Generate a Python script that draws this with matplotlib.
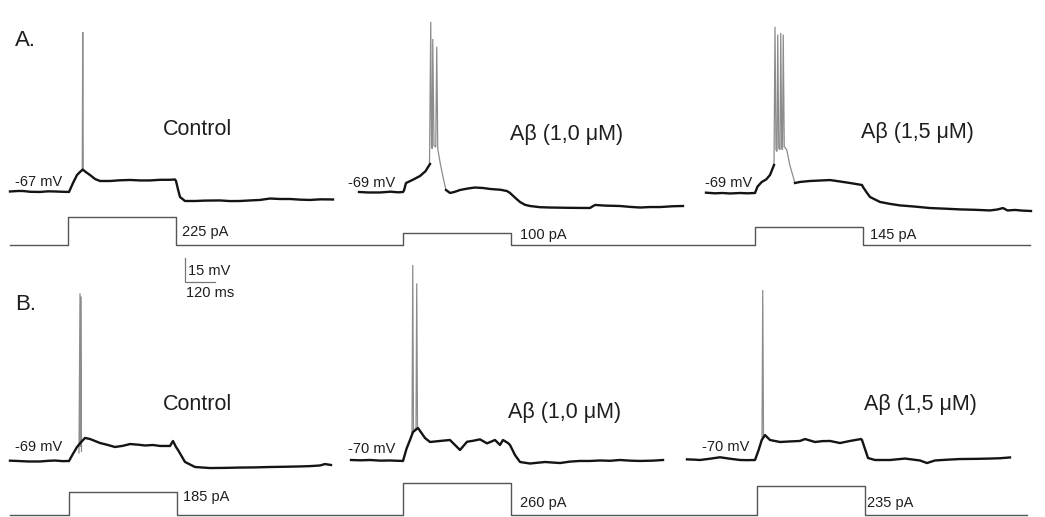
import numpy as np
import matplotlib

matplotlib.use("Agg")
import matplotlib.pyplot as plt

plt.rcParams["font.family"] = ["Liberation Sans", "DejaVu Sans"]

W, H = 1045, 517
PX_PER_MS = 0.25       # horizontal scale
PX_PER_MV = 1.6        # vertical scale (15 mV bar ~ 24 px)
PX_PER_PA = 0.125      # current step scale

TRACE = "#141414"
SPIKE = "#8c8c8c"
STIM = "#555555"
TEXT = "#1e1e1e"

# ---- voltage traces: time from step onset (ms), membrane potential (mV) ----
A1_T = [-232, -200, -180, -150, -112, -80, -52, -20, 4, 20, 36, 50, 59, 70, 88, 108, 128,
        168, 208, 248, 288, 328, 368, 408, 428, 432, 440, 448, 468, 508, 548, 608, 648,
        688, 728, 768, 808, 848, 888, 928, 968, 1010, 1060]
A1_V = [-67.3, -67.0, -67.0, -67.5, -67.6, -67.2, -67.3, -67.5, -67.6, -62.0, -57.0, -54.8,
        -53.6, -55.0, -57.0, -59.5, -60.75, -60.75, -60.3, -60.1, -60.4, -60.4, -60.0, -60.0,
        -59.8, -60.75, -66.0, -70.75, -73.25, -73.25, -73.0, -72.9, -73.3, -73.25, -72.9,
        -72.6, -71.7, -72.0, -72.0, -72.4, -72.6, -72.2, -72.3]
A1_SPK_T = [57, 59, 61]
A1_SPK_V = [-54.0, 32.4, -54.0]

A2_T = [-176, -140, -92, -50, -20, 0, 4, 12, 40, 68, 90, 108, np.nan,
        172, 188, 205, 228, 260, 288, 320, 348, 390, 416, 428, 448, 468, 488, 508, 548,
        588, 668, 748, 758, 768, 808, 868, 908, 948, 988, 1028, 1080, 1120]
A2_V = [-69.0, -69.3, -69.3, -68.8, -69.2, -69.0, -68.0, -63.4, -61.3, -59.0, -56.0, -51.5, np.nan,
        -67.75, -69.6, -69.0, -67.75, -66.8, -66.2, -66.5, -67.1, -67.6, -68.4, -69.6, -72.5,
        -75.25, -77.0, -77.75, -78.5, -78.7, -78.9, -79.0, -78.0, -77.1, -77.5, -77.75,
        -78.3, -78.7, -78.4, -78.4, -77.9, -77.75]
A2_SPK_T = [106, 111, 114, 117, 119, 124, 131, 135, 139, 150, 162, 172]
A2_SPK_V = [-51.5, 37.4, -40.0, -42.0, 26.6, -40.0, -41.0, 21.8, -42.0, -52.0, -61.0, -67.75]

A3_T = [-196, -160, -130, -100, -60, -30, 0, 10, 27, 45, 60, 76, np.nan,
        160, 180, 220, 260, 300, 340, 380, 428, 432, 446, 460, 500, 540, 580, 640, 700,
        760, 820, 880, 940, 970, 992, 1010, 1040, 1070, 1104]
A3_V = [-68.8, -69.2, -69.0, -69.3, -69.0, -69.2, -69.0, -65.0, -62.1, -60.5, -57.75, -51.5, np.nan,
        -62.75, -62.1, -61.5, -61.2, -60.9, -61.8, -62.75, -64.0, -65.25, -68.5, -71.5,
        -74.6, -75.8, -76.75, -77.5, -78.4, -78.8, -79.25, -79.5, -79.9, -79.3, -78.4,
        -79.9, -79.6, -80.0, -80.25]
A3_SPK_T = [76, 80, 84, 88, 91, 95, 100, 103, 107, 110, 113, 117, 127, 140, 160]
A3_SPK_V = [-51.5, 34.9, -42.0, -43.0, 30.0, -41.0, -42.0, 31.0, -41.0, -42.0, 30.0,
            -40.0, -42.0, -52.0, -62.75]

B1_T = [-232, -200, -160, -112, -80, -52, -20, 4, 20, 36, 48, 60, 68, 88, 108, 128, 160,
        188, 220, 248, 280, 308, 340, 368, 408, 420, 432, 440, 468, 508, 568, 628, 688,
        748, 808, 868, 928, 968, 1008, 1028, 1052]
B1_V = [-68.8, -69.0, -69.3, -69.3, -68.9, -68.7, -69.1, -69.0, -64.5, -60.25, -58.0,
        -55.9, -54.6, -55.25, -56.5, -57.75, -59.0, -60.25, -59.5, -58.4, -58.8, -59.3,
        -59.0, -59.6, -59.6, -56.5, -60.25, -62.1, -69.6, -72.75, -73.4, -73.3, -73.1,
        -73.0, -72.75, -72.6, -72.4, -72.2, -71.8, -70.9, -71.5]
B1_SPK_T = [44, 48, 50, 51, 54]
B1_SPK_V = [-64.0, 35.8, -60.0, 33.7, -63.0]

B2_T = [-208, -170, -132, -90, -52, -20, 0, 14, 28, 40, 60, 88, 108, 148, 188, 228, 256,
        280, 308, 336, 368, 388, 400, 420, 428, 448, 468, 508, 568, 628, 668, 708, 748,
        788, 828, 868, 908, 948, 1000, 1040]
B2_V = [-70.0, -70.2, -70.0, -70.4, -70.3, -70.5, -70.6, -63.0, -57.5, -52.5, -50.0,
        -56.25, -58.75, -58.1, -57.5, -63.75, -58.6, -58.0, -57.1, -59.6, -57.5, -60.6,
        -57.5, -59.4, -60.6, -66.9, -71.25, -72.2, -71.25, -71.9, -71.0, -70.6, -70.6,
        -70.3, -70.5, -70.0, -70.4, -70.6, -70.4, -70.0]
B2_SPK_T = [36, 39, 42, 52, 55, 58]
B2_SPK_V = [-54.0, 51.9, -52.0, -50.0, 40.4, -50.0]

B3_T = [-272, -240, -220, -180, -140, -100, -60, -30, 0, 14, 27, 40, 60, 100, 140, 180,
        200, 240, 270, 300, 340, 380, 424, 428, 452, 480, 540, 600, 660, 688, 720, 770,
        820, 880, 940, 980, 1020]
B3_V = [-69.6, -69.8, -70.0, -69.2, -68.3, -69.2, -70.0, -70.1, -70.0, -64.0, -57.5,
        -54.4, -57.5, -58.75, -58.4, -58.1, -56.9, -58.75, -58.2, -58.1, -59.4, -58.1,
        -56.9, -57.5, -68.75, -70.0, -70.0, -69.1, -70.3, -71.9, -70.3, -69.8, -69.4,
        -69.3, -69.1, -68.9, -68.4]
B3_SPK_T = [28, 31, 34]
B3_SPK_V = [-56.0, 36.25, -55.0]

REST_LABELS = ["-67 mV", "-69 mV", "-69 mV", "-69 mV", "-70 mV", "-70 mV"]
REST_MV = [-67, -69, -69, -69, -70, -70]
CONDITIONS = ["Control", "Aβ (1,0 μM)", "Aβ (1,5 μM)"] * 2

# ---- current steps (row time in ms, amplitude in pA) ----
STEP_DUR = 430
A_ONSETS = [232, 1572, 2980]
A_AMPS = [225, 100, 145]
B_ONSETS = [236, 1572, 2988]
B_AMPS = [185, 260, 235]
ROW_END = [4080, 4068]

SCALE_MS, SCALE_MV = 120, 15

# ---- layout (pixels, top-left origin) ----
# (step onset x, resting-level y) for each panel
PANEL_ANCHOR = [(68, 191), (403, 192), (755, 193),
                (68, 461), (403, 460), (755, 460)]
STIM_ANCHOR = [(10, 245), (10, 515)]
REST_LABEL_POS = [(15, 182), (348, 183), (705, 183),
                  (15, 447), (348, 449), (702, 447)]
COND_POS = [(197, 135), (567, 140), (917, 138),
            (197, 410), (565, 418), (920, 410)]
AMP_LABEL_POS = [(182, 232), (520, 235), (870, 235),
                 (183, 497), (520, 503), (867, 503)]

fig = plt.figure(figsize=(W / 100, H / 100), dpi=100)
fig.set_facecolor("white")


def overlay(x0, y0, xscale, yscale, yval0=0.0):
    """Full-figure transparent axes where data (x0-origin, yval0) lands on pixel (x0, y0)."""
    ax = fig.add_axes([0, 0, 1, 1], label=f"ov{len(fig.axes)}")
    ax.set_xlim((0 - x0) / xscale, (W - x0) / xscale)
    ax.set_ylim(yval0 - (H - y0) / yscale, yval0 + y0 / yscale)
    ax.axis("off")
    ax.patch.set_alpha(0)
    return ax


def ftext(x, y, s, size, ha="left", va="center"):
    fig.text(x / W, 1 - y / H, s, fontsize=size, ha=ha, va=va, color=TEXT)


traces = [(A1_T, A1_V, A1_SPK_T, A1_SPK_V), (A2_T, A2_V, A2_SPK_T, A2_SPK_V),
          (A3_T, A3_V, A3_SPK_T, A3_SPK_V), (B1_T, B1_V, B1_SPK_T, B1_SPK_V),
          (B2_T, B2_V, B2_SPK_T, B2_SPK_V), (B3_T, B3_V, B3_SPK_T, B3_SPK_V)]

for i, (t, v, st, sv) in enumerate(traces):
    ox, oy = PANEL_ANCHOR[i]
    ax = overlay(ox, oy, PX_PER_MS, PX_PER_MV, REST_MV[i])
    ax.plot(st, sv, color=SPIKE, lw=0.9, solid_joinstyle="miter")
    ax.plot(t, v, color=TRACE, lw=1.7, solid_joinstyle="round")
    ftext(*REST_LABEL_POS[i], REST_LABELS[i], 10.5)
    ftext(*COND_POS[i], CONDITIONS[i], 15.5, ha="center", va="baseline")

for r, (onsets, amps) in enumerate([(A_ONSETS, A_AMPS), (B_ONSETS, B_AMPS)]):
    ts, cs = [0], [0]
    for on, amp in zip(onsets, amps):
        ts += [on, on, on + STEP_DUR, on + STEP_DUR]
        cs += [0, amp, amp, 0]
    ts.append(ROW_END[r])
    cs.append(0)
    ax = overlay(*STIM_ANCHOR[r], PX_PER_MS, PX_PER_PA)
    ax.plot(ts, cs, color=STIM, lw=1.0)
    for j, amp in enumerate(amps):
        ftext(*AMP_LABEL_POS[3 * r + j], f"{amp} pA", 10.5)

# scale bar
ax = overlay(185, 282, PX_PER_MS, PX_PER_MV)
ax.plot([0, 0, SCALE_MS], [SCALE_MV, 0, 0], color="#777777", lw=0.9)
ftext(188, 271, f"{SCALE_MV} mV", 10.5)
ftext(186, 293, f"{SCALE_MS} ms", 10.5)

ftext(15, 41, "A.", 16)
ftext(15, 305, "B.", 16)

fig.savefig("out.png", dpi=100, facecolor="white")
